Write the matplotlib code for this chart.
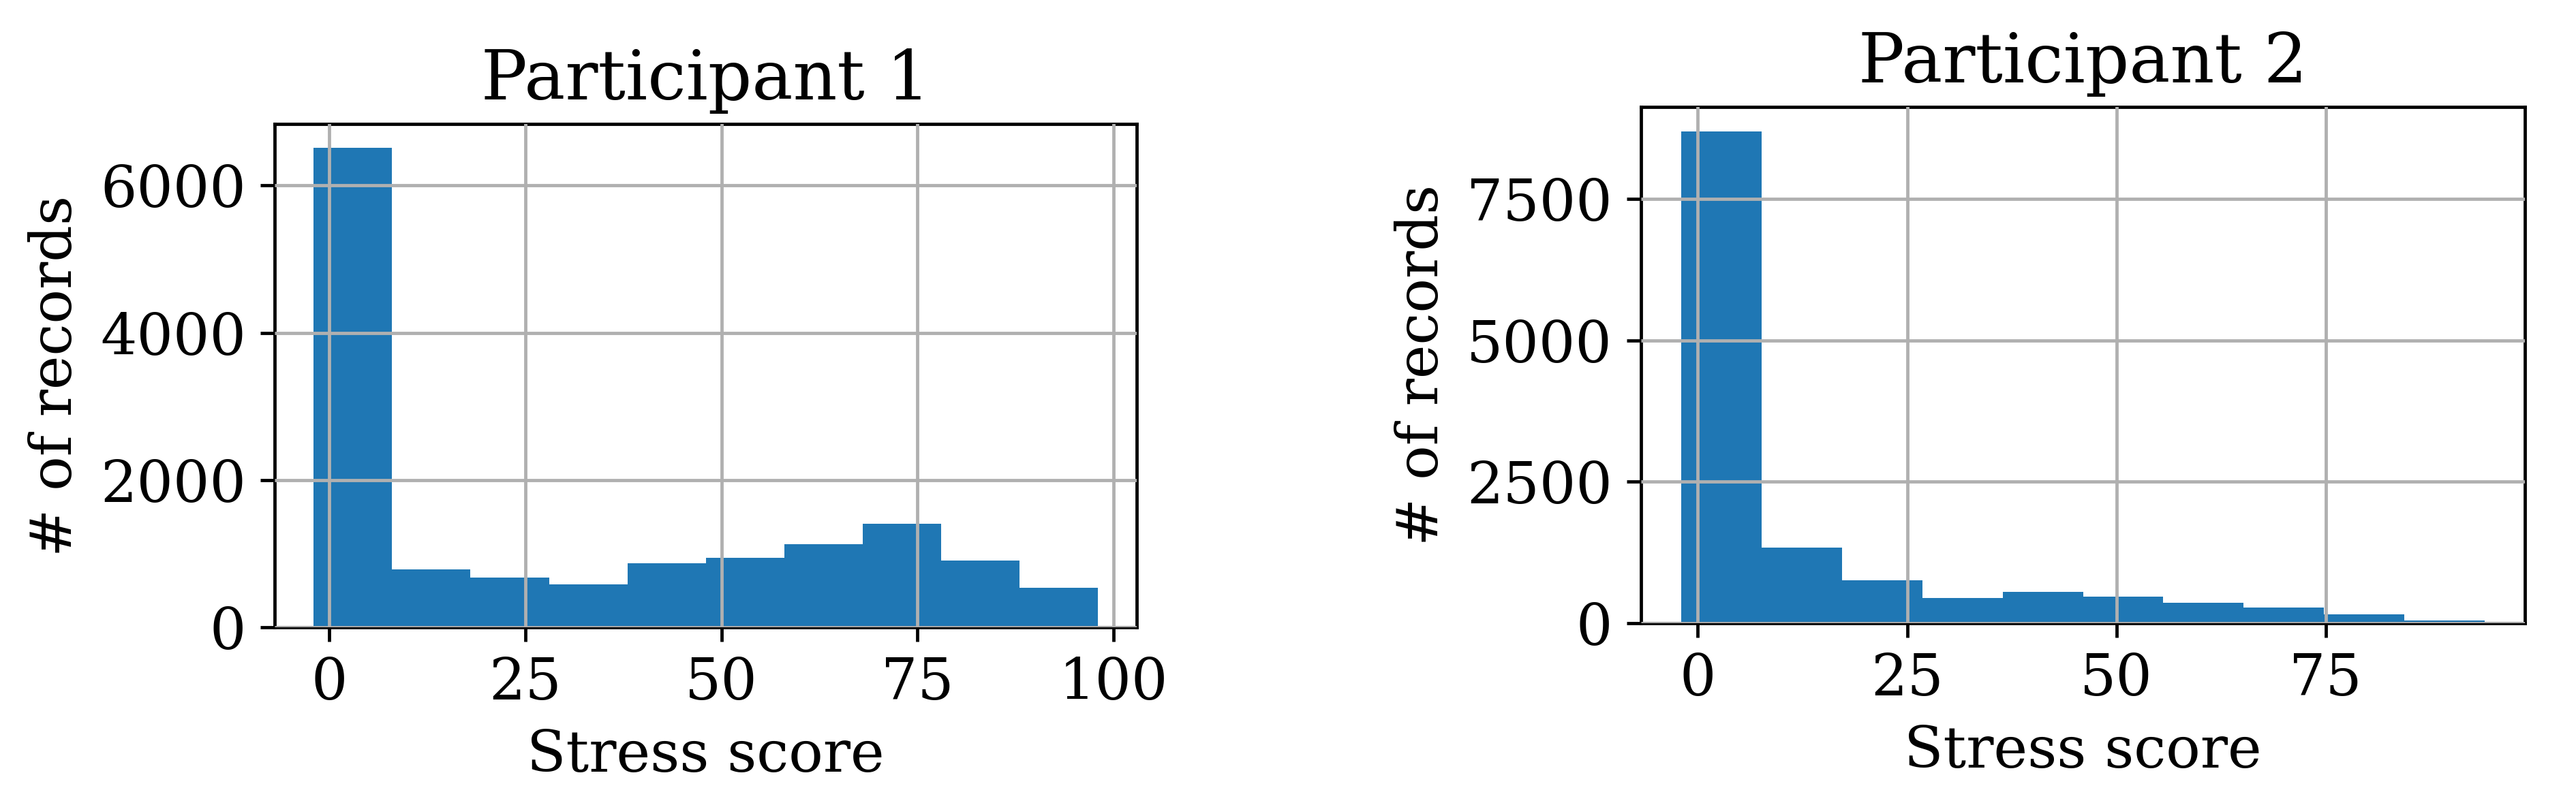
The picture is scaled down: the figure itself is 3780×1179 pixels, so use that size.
import numpy as np
import matplotlib
matplotlib.use("Agg")
import matplotlib.pyplot as plt

plt.rcParams['font.family'] = 'serif'
plt.rcParams['font.size'] = 14

# === Histogram data (bin edges + counts) ===
p1_edges = np.linspace(-2, 98, 11)
p1_counts = [6509, 788, 679, 585, 873, 948, 1132, 1410, 906, 533]

p2_edges = np.linspace(-2, 94, 11)
p2_counts = [8690, 1340, 761, 440, 560, 472, 365, 283, 151, 44]

titles = ['Participant 1', 'Participant 2']
xlabel = 'Stress score'
ylabel = '# of records'

DPI = 432
fig = plt.figure(figsize=(3780 / DPI, 1179 / DPI), dpi=DPI)
ax1 = fig.add_axes([0.1066, 0.2188, 0.3347, 0.6268])
ax2 = fig.add_axes([0.6370, 0.2239, 0.3432, 0.6429])

for ax, edges, counts, title in zip([ax1, ax2], [p1_edges, p2_edges],
                                    [p1_counts, p2_counts], titles):
    centers = (edges[:-1] + edges[1:]) / 2
    ax.hist(centers, bins=edges, weights=counts, color='#1f77b4')
    ax.grid(True, color='#b0b0b0', linewidth=0.8)
    ax.set_axisbelow(False)
    ax.set_title(title, fontsize='large')
    ax.set_xlabel(xlabel)
    ax.set_ylabel(ylabel)

ax1.set_xticks([0, 25, 50, 75, 100])
ax2.set_xticks([0, 25, 50, 75])
ax2.set_yticks([0, 2500, 5000, 7500])

fig.savefig('out.png', dpi=DPI)
